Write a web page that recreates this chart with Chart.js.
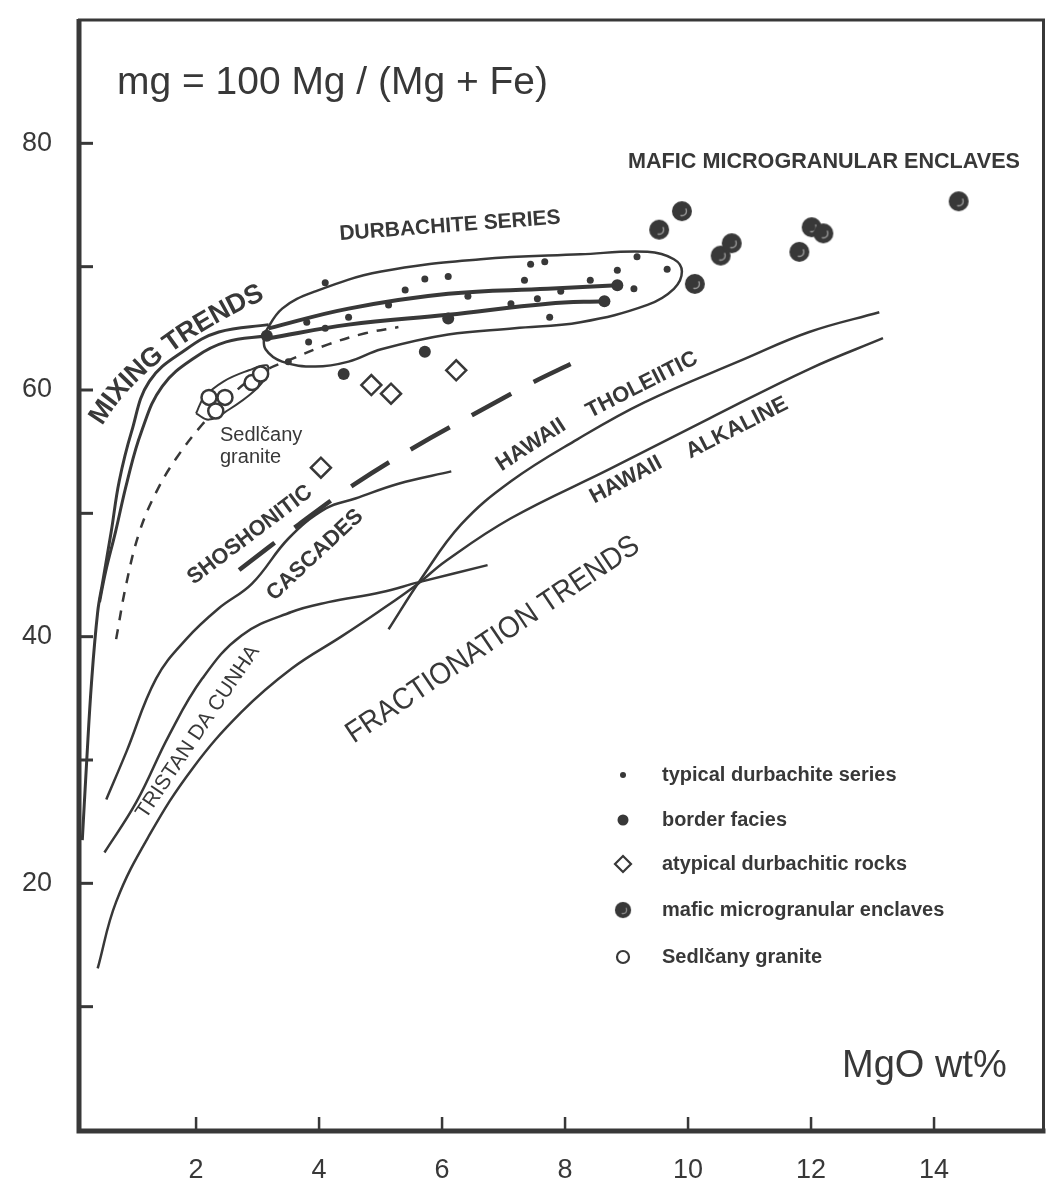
<!DOCTYPE html>
<html>
<head>
<meta charset="utf-8">
<script src="https://cdn.jsdelivr.net/npm/chart.js@4.4.1/dist/chart.umd.min.js"></script>
<style>
  html, body { margin: 0; padding: 0; background: #fff; }
</style>
</head>
<body>
<canvas id="myChart" width="1056" height="1180"></canvas>
<script>
const ink = '#383838';
const family = "'Liberation Sans', Arial, Helvetica, sans-serif";

// axis ticks
const xTicks = [2, 4, 6, 8, 10, 12, 14];
const yTicks = [10, 20, 30, 40, 50, 60, 70, 80];
const yLabels = [20, 40, 60, 80];

// sample groups  [MgO wt%, mg]
const typicalDurbachite = [[4.10,68.7],[5.72,69.0],[6.10,69.2],[7.44,70.2],[7.67,70.4],[9.17,70.8],[8.85,69.7],[9.66,69.8],
  [9.12,68.2],[7.34,68.9],[8.41,68.9],[7.93,68.0],[5.40,68.1],[5.13,66.9],[6.42,67.6],[7.12,67.0],[7.55,67.4],[7.75,65.9],
  [3.83,63.9],[4.10,65.0],[4.48,65.9],[3.50,62.3],[3.80,65.5]];
const borderFacies = [[4.40,61.3],[5.72,63.1],[6.10,65.8],[8.85,68.5],[8.64,67.2],[3.15,64.4]];
const atypicalRocks = [[4.85,60.4],[5.17,59.7],[6.23,61.6],[4.03,53.7]];
const maficEnclaves = [[9.53,73.0],[9.90,74.5],[10.11,68.6],[10.53,70.9],[10.71,71.9],[11.81,71.2],[12.01,73.2],[12.20,72.7],[14.40,75.3]];
const sedlcanyGranite = [[2.21,59.4],[2.47,59.4],[2.32,58.3],[2.91,60.6],[3.05,61.3]];

// trend curves
const mixingOuter = [[0.15,23.5],[0.22,29.8],[0.30,36.3],[0.40,42.0],[0.48,44.4],[0.62,48.5],[0.75,52.6],[0.95,56.6],
  [1.24,60.7],[1.84,63.3],[2.37,64.7],[3.18,65.3]];
const mixingInner = [[0.43,42.8],[0.53,45.3],[0.69,48.5],[0.88,52.6],[1.11,56.6],[1.45,60.3],[2.0,62.7],[2.49,63.9],[3.15,64.4]];
const mixingDashed = [[0.70,39.8],[0.87,44.4],[1.08,48.5],[1.35,51.7],[1.67,54.4],[2.10,57.2],[2.53,59.4],[3.02,61.3],
  [3.55,62.5],[4.15,63.7],[4.75,64.6],[5.29,65.1]];
const durbachiteField = [[3.10,64.5],[3.40,66.6],[3.94,68.0],[5.01,69.6],[6.63,70.6],[8.25,71.0],[9.34,71.2],[9.77,70.6],
  [9.90,69.6],[9.77,68.2],[9.34,66.9],[8.25,65.5],[7.18,65.0],[6.10,64.5],[5.01,63.3],[4.48,62.3],[3.94,61.9],[3.40,62.3],
  [3.13,63.3],[3.10,64.5]];
const durbachiteUpper = [[3.18,65.0],[4.48,66.6],[6.10,67.8],[7.72,68.2],[8.85,68.5]];
const durbachiteLower = [[3.18,64.2],[4.48,65.3],[6.10,66.1],[7.72,67.0],[8.64,67.2]];
const sedlcanyField = [[2.0,58.1],[2.13,59.4],[2.45,60.7],[2.86,61.6],[3.15,62.0],[3.15,61.2],[2.94,59.9],[2.53,58.4],[2.21,57.6],[2.0,58.1]];
const shoshoniticDash = [[2.70,45.4],[3.67,49.1],[4.56,52.3],[5.53,55.3],[6.50,58.0],[7.47,60.6],[8.09,62.1]];
const shoshoniticTrend = [[0.54,26.8],[0.87,30.7],[1.35,36.6],[1.84,39.8],[2.37,42.3],[2.91,44.3],[3.51,48.0],[4.11,50.4],
  [4.59,51.2],[5.29,52.4],[6.15,53.4]];
const tristanUpper = [[0.51,22.5],[1.03,26.6],[1.56,32.0],[2.10,36.6],[2.74,40.1],[3.55,42.0],[4.15,42.8],[5.01,43.6],[5.61,44.4],[6.74,45.8]];
const hawaiiAlkaline = [[0.40,13.1],[0.70,18.5],[1.24,23.9],[1.94,29.3],[2.74,33.9],[3.55,37.4],[4.36,40.0],[4.96,42.0],
  [5.61,44.3],[6.05,46.1],[7.12,49.6],[8.73,53.6],[10.35,57.7],[11.97,61.7],[13.17,64.2]];
const hawaiiTholeiitic = [[5.13,40.6],[5.66,44.7],[6.31,49.1],[7.12,52.6],[8.20,56.0],[9.29,59.0],[10.91,62.5],[11.97,64.7],[13.11,66.3]];

const pts = arr => arr.map(p => ({ x: p[0], y: p[1] }));

// enclave marker: dark disc with a pale ring
const enclaveImg = document.createElement('canvas');
enclaveImg.width = 22; enclaveImg.height = 22;
(function () {
  const c = enclaveImg.getContext('2d');
  c.fillStyle = ink;
  c.beginPath(); c.arc(11, 11, 10, 0, Math.PI * 2); c.fill();
  c.strokeStyle = '#9a9a9a'; c.lineWidth = 1.4;
  c.beginPath(); c.arc(11, 11, 4.5, -0.6, 1.9); c.stroke();
})();

function curve(data, width, dash) {
  return {
    data: pts(data), showLine: true, pointRadius: 0, borderColor: ink, borderWidth: width,
    borderDash: dash || [], tension: 0.4, fill: false
  };
}

const datasets = [
  { label: 'typical durbachite series', data: pts(typicalDurbachite), pointRadius: 3.5, pointBackgroundColor: ink, pointBorderWidth: 0 },
  { label: 'border facies', data: pts(borderFacies), pointRadius: 6, pointBackgroundColor: ink, pointBorderWidth: 0 },
  { label: 'atypical durbachitic rocks', data: pts(atypicalRocks), pointStyle: 'rectRot', pointRadius: 10, pointBackgroundColor: '#fff', pointBorderColor: ink, pointBorderWidth: 2.5 },
  { label: 'mafic microgranular enclaves', data: pts(maficEnclaves), pointStyle: enclaveImg },
  { label: 'Sedlčany granite', data: pts(sedlcanyGranite), pointRadius: 7.5, pointBackgroundColor: '#fff', pointBorderColor: ink, pointBorderWidth: 2.5 },
  curve(durbachiteUpper, 4),
  curve(durbachiteLower, 4),
  curve(durbachiteField, 2.5),
  curve(sedlcanyField, 2),
  curve(mixingOuter, 3),
  curve(mixingInner, 3),
  curve(mixingDashed, 2.5, [10, 9]),
  curve(shoshoniticDash, 4.5, [45, 25]),
  curve(shoshoniticTrend, 2.5),
  curve(tristanUpper, 2.5),
  curve(hawaiiAlkaline, 2.5),
  curve(hawaiiTholeiitic, 2.5)
];

const notes = [
  { t: 'mg = 100 Mg / (Mg + Fe)', x: 117, y: 94, a: 0, f: '39px', w: 431, left: true },
  { t: 'MgO wt%', x: 842, y: 1077, a: 0, f: '38px', w: 168, left: true },
  { t: 'MAFIC MICROGRANULAR ENCLAVES', x: 824, y: 162, a: 0, f: 'bold 22px', w: 392 },
  { t: 'DURBACHITE SERIES', x: 450, y: 226, a: -4.3, f: 'bold 21px', w: 226 },
  { t: 'Sedlčany', x: 220, y: 441, a: 0, f: '20px', w: 87, left: true },
  { t: 'granite', x: 220, y: 463, a: 0, f: '20px', w: 67, left: true },
  { t: 'SHOSHONITIC', x: 250, y: 535, a: -37, f: 'bold 22px', w: 150 },
  { t: 'CASCADES', x: 315, y: 555, a: -43, f: 'bold 22px', w: 123 },
  { t: 'TRISTAN DA CUNHA', x: 198, y: 732, a: -56, f: '21px', w: 206 },
  { t: 'HAWAII', x: 531, y: 445, a: -33, f: 'bold 22px', w: 80 },
  { t: 'THOLEIITIC', x: 642, y: 385, a: -27, f: 'bold 22px', w: 124 },
  { t: 'HAWAII', x: 626, y: 480, a: -28, f: 'bold 22px', w: 85 },
  { t: 'ALKALINE', x: 737, y: 428, a: -27, f: 'bold 22px', w: 116 },
  { t: 'FRACTIONATION TRENDS', x: 493, y: 640, a: -34, f: '30px', w: 347 }
];

const legendRows = [775, 820, 864, 910, 957];
const legendWidths = [235, 125, 245, 284, 160];

// text set along a quadratic curve (the bent "MIXING TRENDS" label)
function textOnCurve(c, text, p0, p1, p2, font) {
  c.font = font;
  const samples = [], lens = [0];
  for (let i = 0; i <= 200; i++) {
    const t = i / 200, u = 1 - t;
    samples.push([u * u * p0[0] + 2 * u * t * p1[0] + t * t * p2[0], u * u * p0[1] + 2 * u * t * p1[1] + t * t * p2[1]]);
    if (i) lens.push(lens[i - 1] + Math.hypot(samples[i][0] - samples[i - 1][0], samples[i][1] - samples[i - 1][1]));
  }
  const len = lens[200];
  const full = c.measureText(text).width;
  const k = Math.min(1, len / full);
  let s = (len - full * k) / 2;
  c.textAlign = 'center'; c.textBaseline = 'middle';
  for (const ch of text) {
    const w = c.measureText(ch).width * k;
    const mid = s + w / 2;
    let j = 1;
    while (j < 200 && lens[j] < mid) j++;
    const a = samples[j - 1], b = samples[j];
    const f = (mid - lens[j - 1]) / ((lens[j] - lens[j - 1]) || 1);
    c.save();
    c.translate(a[0] + (b[0] - a[0]) * f, a[1] + (b[1] - a[1]) * f);
    c.rotate(Math.atan2(b[1] - a[1], b[0] - a[0]));
    c.scale(k, 1);
    c.fillText(ch, 0, 0);
    c.restore();
    s += w;
  }
}

const decor = {
  id: 'decor',
  afterDraw(chart) {
    const c = chart.ctx, area = chart.chartArea;
    const xs = chart.scales.x, ys = chart.scales.y;
    c.save();
    c.strokeStyle = ink; c.fillStyle = ink; c.lineCap = 'butt';
    // frame
    c.lineWidth = 3;
    c.beginPath();
    c.moveTo(area.left, area.top); c.lineTo(area.right, area.top); c.lineTo(area.right, area.bottom);
    c.stroke();
    c.lineWidth = 5;
    c.beginPath();
    c.moveTo(area.left + 1, area.top - 1); c.lineTo(area.left + 1, area.bottom + 1); c.lineTo(area.right + 2, area.bottom + 1);
    c.stroke();
    // inward tick marks
    c.lineWidth = 3;
    yTicks.forEach(v => {
      const y = ys.getPixelForValue(v);
      c.beginPath(); c.moveTo(area.left, y); c.lineTo(area.left + 15, y); c.stroke();
    });
    c.lineWidth = 2.5;
    xTicks.forEach(v => {
      const x = xs.getPixelForValue(v);
      c.beginPath(); c.moveTo(x, area.bottom); c.lineTo(x, area.bottom - 13); c.stroke();
    });
    // labels on the plot
    notes.forEach(n => {
      c.save();
      c.translate(n.x, n.y);
      c.rotate(n.a * Math.PI / 180);
      c.font = n.f + ' ' + family;
      c.textAlign = n.left ? 'left' : 'center';
      c.textBaseline = n.left ? 'alphabetic' : 'middle';
      c.fillText(n.t, 0, 0, n.w);
      c.restore();
    });
    textOnCurve(c, 'MIXING TRENDS', [96, 422], [138, 349], [262, 292], 'bold 27px ' + family);
    // legend
    chart.data.datasets.slice(0, 5).forEach((ds, i) => {
      const y = legendRows[i], x = 623;
      c.lineWidth = 2.2;
      if (i === 0) { c.beginPath(); c.arc(x, y, 3, 0, Math.PI * 2); c.fill(); }
      if (i === 1) { c.beginPath(); c.arc(x, y, 5.5, 0, Math.PI * 2); c.fill(); }
      if (i === 2) {
        c.beginPath(); c.moveTo(x, y - 8); c.lineTo(x + 8, y); c.lineTo(x, y + 8); c.lineTo(x - 8, y); c.closePath(); c.stroke();
      }
      if (i === 3) c.drawImage(enclaveImg, x - 9, y - 9, 18, 18);
      if (i === 4) { c.beginPath(); c.arc(x, y, 6, 0, Math.PI * 2); c.stroke(); }
      c.font = 'bold 20px ' + family;
      c.textAlign = 'left'; c.textBaseline = 'middle';
      c.fillText(ds.label, 662, y, legendWidths[i]);
    });
    c.restore();
  }
};

Chart.defaults.font.family = family;

new Chart(document.getElementById('myChart'), {
  type: 'scatter',
  data: { datasets: datasets },
  options: {
    responsive: false,
    animation: false,
    devicePixelRatio: 1,
    layout: { padding: { top: 20, right: 3, left: 0, bottom: 0 } },
    plugins: { legend: { display: false }, tooltip: { enabled: false } },
    scales: {
      x: {
        type: 'linear', min: 0.08, max: 15.78,
        afterBuildTicks: s => { s.ticks = xTicks.map(v => ({ value: v })); },
        afterFit: s => { s.height = 50; s.paddingLeft = 0; s.paddingRight = 0; },
        grid: { display: false, drawTicks: false },
        border: { display: false },
        ticks: { color: ink, font: { size: 27 }, padding: 24, maxRotation: 0, autoSkip: false }
      },
      y: {
        type: 'linear', min: 0, max: 90,
        afterBuildTicks: s => { s.ticks = yTicks.map(v => ({ value: v })); },
        afterFit: s => { s.width = 78; s.paddingTop = 0; s.paddingBottom = 0; },
        grid: { display: false, drawTicks: false },
        border: { display: false },
        ticks: { color: ink, font: { size: 27 }, padding: 26, autoSkip: false,
          callback: v => yLabels.includes(v) ? String(v) : '' }
      }
    }
  },
  plugins: [decor]
});
</script>
</body>
</html>
